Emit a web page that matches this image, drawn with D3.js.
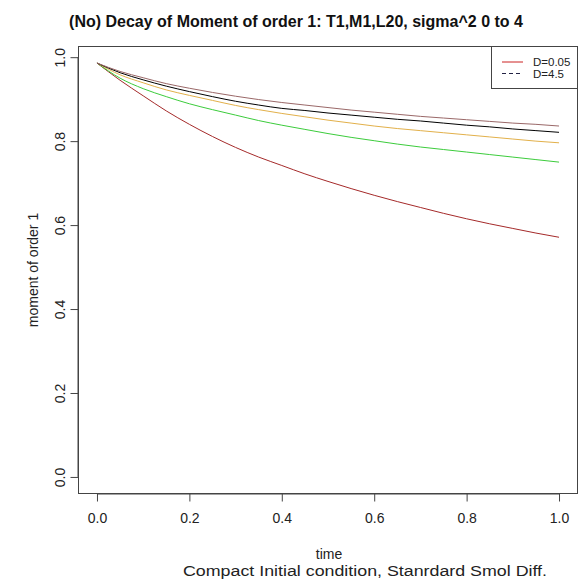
<!DOCTYPE html>
<html>
<head>
<meta charset="utf-8">
<script src="https://cdn.jsdelivr.net/npm/d3@7"></script>
<style>
  html, body { margin: 0; padding: 0; background: #fff; }
  svg { display: block; font-family: "Liberation Sans", Arial, sans-serif; }
</style>
</head>
<body>
<svg id="chart" width="579" height="586"></svg>
<script>
// time grid shared by every curve
const times = [0, 0.05, 0.1, 0.15, 0.2, 0.25, 0.3, 0.35, 0.4, 0.45, 0.5,
               0.55, 0.6, 0.65, 0.7, 0.75, 0.8, 0.85, 0.9, 0.95, 1.0];

// first moment over time, one array per diffusion setting
const momentRed    = [0.986, 0.945, 0.908, 0.872, 0.840, 0.811, 0.785, 0.762, 0.742, 0.722, 0.704,
                      0.687, 0.671, 0.656, 0.642, 0.628, 0.615, 0.603, 0.592, 0.581, 0.571];
const momentGreen  = [0.986, 0.950, 0.925, 0.906, 0.889, 0.875, 0.862, 0.849, 0.838, 0.828, 0.818,
                      0.809, 0.801, 0.793, 0.786, 0.780, 0.774, 0.768, 0.762, 0.756, 0.750];
const momentOrange = [0.986, 0.958, 0.939, 0.922, 0.909, 0.897, 0.885, 0.875, 0.866, 0.858, 0.850,
                      0.843, 0.836, 0.830, 0.825, 0.820, 0.815, 0.810, 0.805, 0.800, 0.796];
const momentBlack  = [0.986, 0.963, 0.946, 0.931, 0.918, 0.906, 0.895, 0.886, 0.878, 0.873, 0.867,
                      0.862, 0.857, 0.852, 0.848, 0.843, 0.838, 0.834, 0.829, 0.825, 0.821];
const momentBrown  = [0.986, 0.966, 0.951, 0.937, 0.926, 0.916, 0.907, 0.899, 0.892, 0.886, 0.880,
                      0.874, 0.869, 0.864, 0.859, 0.855, 0.851, 0.847, 0.843, 0.840, 0.836];

const seriesColors = ["#a52a2a", "#3ccc3c", "#e2b04a", "#000000", "#9a6868"];
const seriesValues = [momentRed, momentGreen, momentOrange, momentBlack, momentBrown];

const xTicks = [0, 0.2, 0.4, 0.6, 0.8, 1.0];
const yTicks = [0, 0.2, 0.4, 0.6, 0.8, 1.0];

const legendLabels = ["D=0.05", "D=4.5"];
const legendColors = ["#cc2222", "#222244"];
const legendDash   = [null, "4,3"];

const svg = d3.select("#chart");
const plot = { left: 78.5, right: 577.5, top: 46.5, bottom: 493.5 };

// R-style 4% padding around the data range
const x = d3.scaleLinear().domain([-0.04, 1.04]).range([plot.left, plot.right]);
const y = d3.scaleLinear().domain([-0.03944, 1.02544]).range([plot.bottom, plot.top]);

// curves
const line = d3.line()
  .x((d, i) => x(times[i]))
  .y(d => y(d))
  .curve(d3.curveMonotoneX);

svg.append("g").selectAll("path")
  .data(seriesValues)
  .join("path")
  .attr("d", d => line(d))
  .attr("fill", "none")
  .attr("stroke", (d, i) => seriesColors[i])
  .attr("stroke-width", 1);

// plot box
svg.append("rect")
  .attr("x", plot.left).attr("y", plot.top)
  .attr("width", plot.right - plot.left).attr("height", plot.bottom - plot.top)
  .attr("fill", "none").attr("stroke", "#444").attr("stroke-width", 1);

// x axis
const xAxis = d3.axisBottom(x).tickValues(xTicks).tickSize(8).tickPadding(12)
  .tickFormat(d3.format(".1f"));
const gx = svg.append("g").attr("transform", `translate(0,${plot.bottom})`).call(xAxis);
gx.select(".domain").attr("d", `M${x(0)},0.5H${x(1)}`).attr("stroke", "#444");
gx.selectAll(".tick line").attr("stroke", "#444");
gx.selectAll("text").attr("font-size", 14).attr("fill", "#222")
  .attr("font-family", "Liberation Sans, Arial, sans-serif");

// y axis, labels rotated like R's default las=0
const yAxis = d3.axisLeft(y).tickValues(yTicks).tickSize(8).tickFormat(d3.format(".1f"));
const gy = svg.append("g").attr("transform", `translate(${plot.left},0)`).call(yAxis);
gy.select(".domain").attr("d", `M-0.5,${y(0)}V${y(1)}`).attr("stroke", "#444");
gy.selectAll(".tick line").attr("stroke", "#444");
gy.selectAll("text")
  .attr("font-size", 14).attr("fill", "#222")
  .attr("font-family", "Liberation Sans, Arial, sans-serif")
  .attr("x", null).attr("dy", null)
  .attr("text-anchor", "middle")
  .attr("transform", "translate(-14,0) rotate(-90)")
  .attr("dominant-baseline", "auto");

// titles
svg.append("text")
  .attr("x", 296).attr("y", 26.5)
  .attr("text-anchor", "middle")
  .attr("font-size", 16).attr("font-weight", "bold").attr("fill", "#111")
  .text("(No) Decay of Moment of order 1: T1,M1,L20, sigma^2 0 to 4");

svg.append("text")
  .attr("x", 329).attr("y", 558.5)
  .attr("text-anchor", "middle").attr("font-size", 14).attr("fill", "#222")
  .text("time");

svg.append("text")
  .attr("x", 365).attr("y", 575.5)
  .attr("text-anchor", "middle").attr("font-size", 15.5).attr("fill", "#222")
  .attr("textLength", 364).attr("lengthAdjust", "spacingAndGlyphs")
  .text("Compact Initial condition, Stanrdard Smol Diff.");

svg.append("text")
  .attr("transform", `translate(38,${(plot.top + plot.bottom) / 2}) rotate(-90)`)
  .attr("text-anchor", "middle").attr("font-size", 14).attr("fill", "#222")
  .text("moment of order 1");

// legend
const lg = svg.append("g");
lg.append("rect")
  .attr("x", 491.5).attr("y", 46.5).attr("width", 86).attr("height", 42)
  .attr("fill", "#fff").attr("stroke", "#444");
legendLabels.forEach((lab, i) => {
  const ly = 62 + i * 11.5;
  lg.append("line")
    .attr("x1", 502).attr("x2", 523).attr("y1", ly).attr("y2", ly)
    .attr("stroke", legendColors[i]).attr("stroke-width", 1)
    .attr("stroke-dasharray", legendDash[i]);
  lg.append("text")
    .attr("x", 533).attr("y", ly + 4)
    .attr("font-size", 11.5).attr("fill", "#222")
    .text(lab);
});
</script>
</body>
</html>
